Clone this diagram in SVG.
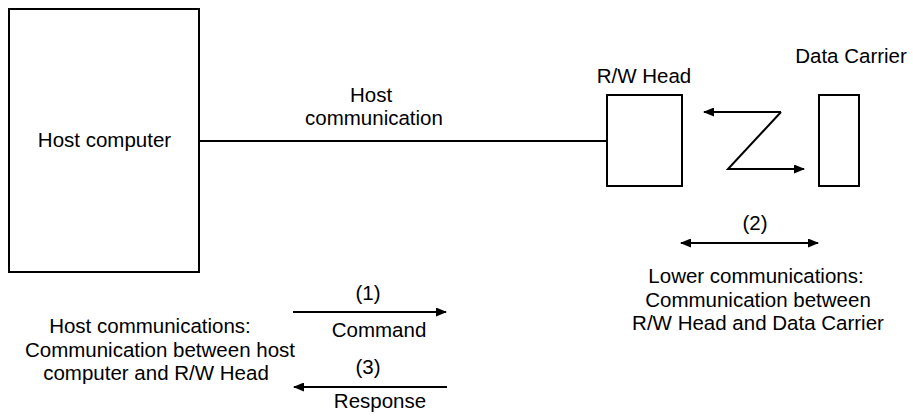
<svg xmlns="http://www.w3.org/2000/svg" width="913" height="418" viewBox="0 0 913 418">
<style>
  .box { fill: #fff; stroke: #000; stroke-width: 2; }
  .ln { fill: none; stroke: #000; stroke-width: 2; }
  text { font-family: "Liberation Sans", Arial, sans-serif; font-size: 20.5px; fill: #000; text-anchor: middle; }
</style>
<defs>
  <marker id="ah" viewBox="0 0 11 9" refX="10" refY="4.5" markerWidth="11" markerHeight="9" markerUnits="userSpaceOnUse" orient="auto-start-reverse">
    <path d="M0,0 L11,4.5 L0,9 Z" fill="#000"/>
  </marker>
</defs>
<rect width="913" height="418" fill="#fff"/>
<g id="host-computer">
  <rect class="box" x="9" y="9" width="190" height="263"/>
  <text x="104.5" y="147">Host computer</text>
</g>
<g id="rw-head">
  <rect class="box" x="607" y="95" width="75" height="91"/>
  <text x="644" y="83">R/W Head</text>
</g>
<g id="data-carrier">
  <rect class="box" x="819" y="95" width="40" height="91"/>
  <text x="851" y="63">Data Carrier</text>
</g>
<g id="connectors">
  <line class="ln" x1="199" y1="141" x2="607" y2="141"/>
  <polyline class="ln" points="781,112 728,169 804,169" marker-end="url(#ah)"/>
  <line class="ln" x1="781" y1="112" x2="704" y2="112" marker-end="url(#ah)"/>
  <line class="ln" x1="681" y1="243" x2="818" y2="243" marker-start="url(#ah)" marker-end="url(#ah)"/>
  <line class="ln" x1="293" y1="312" x2="446" y2="312" marker-end="url(#ah)"/>
  <line class="ln" x1="447" y1="387" x2="294" y2="387" marker-end="url(#ah)"/>
</g>
<g id="labels">
  <text x="371" y="102">Host</text>
  <text x="374" y="125">communication</text>
  <text x="755" y="230">(2)</text>
  <text x="756" y="283">Lower communications:</text>
  <text x="758" y="307">Communication between</text>
  <text x="758" y="330">R/W Head and Data Carrier</text>
  <text x="368" y="300">(1)</text>
  <text x="379" y="337">Command</text>
  <text x="368" y="374">(3)</text>
  <text x="380" y="408">Response</text>
  <text x="150" y="333">Host communications:</text>
  <text x="160" y="357">Communication between host</text>
  <text x="156" y="380">computer and R/W Head</text>
</g>
</svg>
